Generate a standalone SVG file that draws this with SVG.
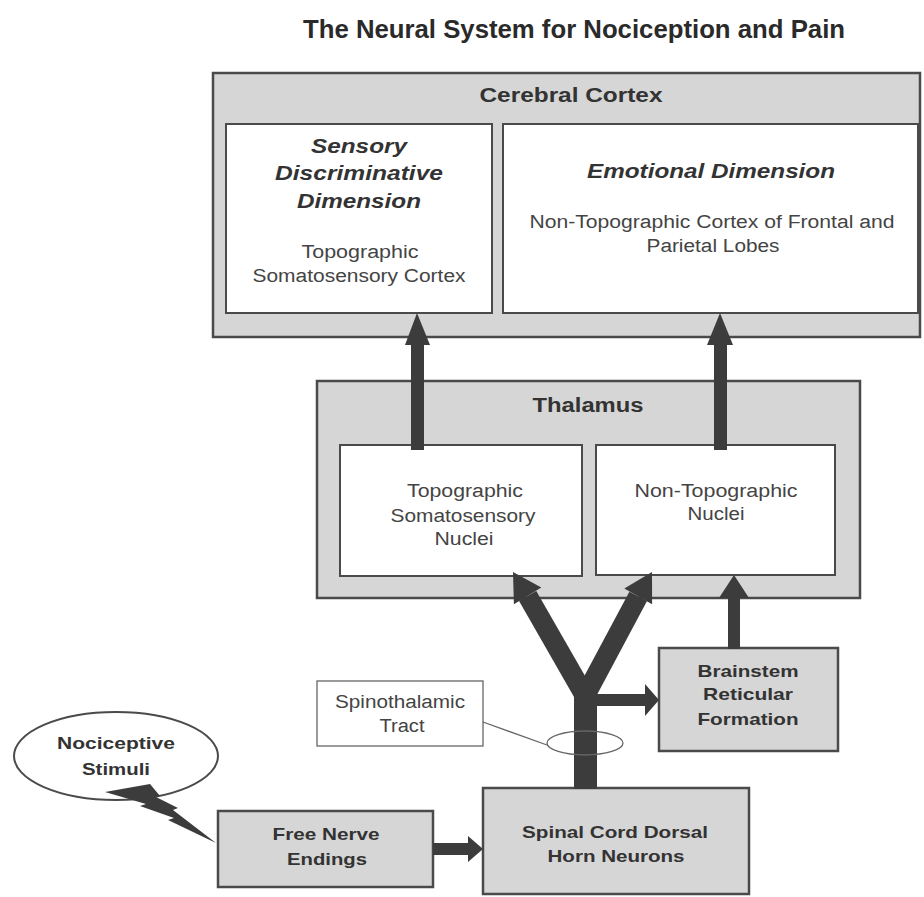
<svg xmlns="http://www.w3.org/2000/svg" width="924" height="897" viewBox="0 0 924 897">
<style>
text{font-family:"Liberation Sans",Arial,sans-serif;text-anchor:middle;fill:#333}
.title{font-size:26px;font-weight:bold;fill:#2a2a2a}
.hd{font-size:20px;font-weight:bold}
.bi{font-size:20px;font-weight:bold;font-style:italic}
.rg{font-size:18px;fill:#444}
.bd{font-size:17px;font-weight:bold}
.gray{fill:#d6d6d6;stroke:#4a4a4a;stroke-width:2.5}
.white{fill:#fff;stroke:#4a4a4a;stroke-width:2}
.thin{fill:#fff;stroke:#666;stroke-width:1.3}
.arrow{fill:#3c3c3c;stroke:none}
.branch{stroke:#3c3c3c;stroke-width:20;fill:none}
</style>
<rect width="924" height="897" fill="#fff"/>
<text class="title" x="574" y="38" textLength="542" lengthAdjust="spacingAndGlyphs">The Neural System for Nociception and Pain</text>

<g id="cortex">
<rect class="gray" x="213" y="73" width="707" height="264"/>
<text class="hd" x="571" y="102" textLength="183" lengthAdjust="spacingAndGlyphs">Cerebral Cortex</text>
</g>
<g id="sensory">
<rect class="white" x="226" y="124" width="266" height="189"/>
<text class="bi" x="359" y="153" textLength="96" lengthAdjust="spacingAndGlyphs">Sensory</text>
<text class="bi" x="359" y="180" textLength="168" lengthAdjust="spacingAndGlyphs">Discriminative</text>
<text class="bi" x="359" y="208" textLength="124" lengthAdjust="spacingAndGlyphs">Dimension</text>
<text class="rg" x="360" y="258" textLength="117" lengthAdjust="spacingAndGlyphs">Topographic</text>
<text class="rg" x="359" y="282" textLength="213" lengthAdjust="spacingAndGlyphs">Somatosensory Cortex</text>
</g>
<g id="emotional">
<rect class="white" x="503" y="124" width="415" height="189"/>
<text class="bi" x="711" y="178" textLength="248" lengthAdjust="spacingAndGlyphs">Emotional Dimension</text>
<text class="rg" x="712" y="228" textLength="365" lengthAdjust="spacingAndGlyphs">Non-Topographic Cortex of Frontal and</text>
<text class="rg" x="713" y="252" textLength="133" lengthAdjust="spacingAndGlyphs">Parietal Lobes</text>
</g>

<g id="thalamus">
<rect class="gray" x="317" y="381" width="543" height="217"/>
<text class="hd" x="588" y="412" textLength="111" lengthAdjust="spacingAndGlyphs">Thalamus</text>
</g>
<g id="topo-nuclei">
<rect class="white" x="340" y="445" width="242" height="131"/>
<text class="rg" x="465" y="497" textLength="116" lengthAdjust="spacingAndGlyphs">Topographic</text>
<text class="rg" x="463" y="522" textLength="145" lengthAdjust="spacingAndGlyphs">Somatosensory</text>
<text class="rg" x="464" y="545" textLength="59" lengthAdjust="spacingAndGlyphs">Nuclei</text>
</g>
<g id="nontopo-nuclei">
<rect class="white" x="596" y="445" width="239" height="130"/>
<text class="rg" x="716" y="497" textLength="163" lengthAdjust="spacingAndGlyphs">Non-Topographic</text>
<text class="rg" x="716" y="520" textLength="57" lengthAdjust="spacingAndGlyphs">Nuclei</text>
</g>

<g id="brainstem">
<rect class="gray" x="659" y="648" width="179" height="103"/>
<text class="bd" x="748" y="677" textLength="101" lengthAdjust="spacingAndGlyphs">Brainstem</text>
<text class="bd" x="748" y="700" textLength="90" lengthAdjust="spacingAndGlyphs">Reticular</text>
<text class="bd" x="748" y="725" textLength="101" lengthAdjust="spacingAndGlyphs">Formation</text>
</g>
<g id="spinal">
<rect class="gray" x="483" y="788" width="266" height="106"/>
<text class="bd" x="615" y="838" textLength="186" lengthAdjust="spacingAndGlyphs">Spinal Cord Dorsal</text>
<text class="bd" x="616" y="862" textLength="137" lengthAdjust="spacingAndGlyphs">Horn Neurons</text>
</g>
<g id="free-nerve">
<rect class="gray" x="218" y="811" width="215" height="76"/>
<text class="bd" x="326" y="840" textLength="107" lengthAdjust="spacingAndGlyphs">Free Nerve</text>
<text class="bd" x="327" y="865" textLength="80" lengthAdjust="spacingAndGlyphs">Endings</text>
</g>
<g id="stimuli">
<ellipse cx="116" cy="756" rx="102" ry="44" fill="#fff" stroke="#4a4a4a" stroke-width="2"/>
<text class="bd" x="116" y="749" textLength="118" lengthAdjust="spacingAndGlyphs">Nociceptive</text>
<text class="bd" x="116" y="775" textLength="68" lengthAdjust="spacingAndGlyphs">Stimuli</text>
</g>
<g id="spinothalamic">
<rect class="thin" x="317" y="681" width="166" height="65"/>
<text class="rg" x="400" y="708" textLength="130" lengthAdjust="spacingAndGlyphs">Spinothalamic</text>
<text class="rg" x="402" y="732" textLength="45" lengthAdjust="spacingAndGlyphs">Tract</text>
</g>

<g id="connectors">
<polygon class="arrow" points="411,450 411,345 405,345 417,313 430,345 424,345 424,450"/>
<polygon class="arrow" points="714,450 714,345 707,345 720,313 733,345 727,345 727,450"/>
<rect class="arrow" x="574" y="680" width="23" height="109"/>
<line class="branch" x1="585" y1="696" x2="527.6" y2="595.9"/>
<line class="branch" x1="585" y1="696" x2="638.2" y2="596.4"/>
<polygon class="arrow" points="513,572 541.3,587.6 513.9,604.2"/>
<polygon class="arrow" points="652,572 652.1,604.3 624.3,588.5"/>
<polygon class="arrow" points="596,694 645,694 645,684 659,700 645,716 645,706 596,706"/>
<polygon class="arrow" points="728,649 728,598 719,598 734,575 749,598 740,598 740,649"/>
<polygon class="arrow" points="433,843 468,843 468,836 483,849 468,862 468,855 433,855"/>
<polygon class="arrow" points="105,792 150,784 160,796 156,797 178,808 173,810 216,843 168,820 174,818 140,806 146,804"/>
<ellipse cx="585" cy="743" rx="38" ry="12" fill="none" stroke="#666" stroke-width="1.3"/>
<line x1="483" y1="722" x2="547" y2="745" stroke="#666" stroke-width="1.3"/>
</g>
</svg>
